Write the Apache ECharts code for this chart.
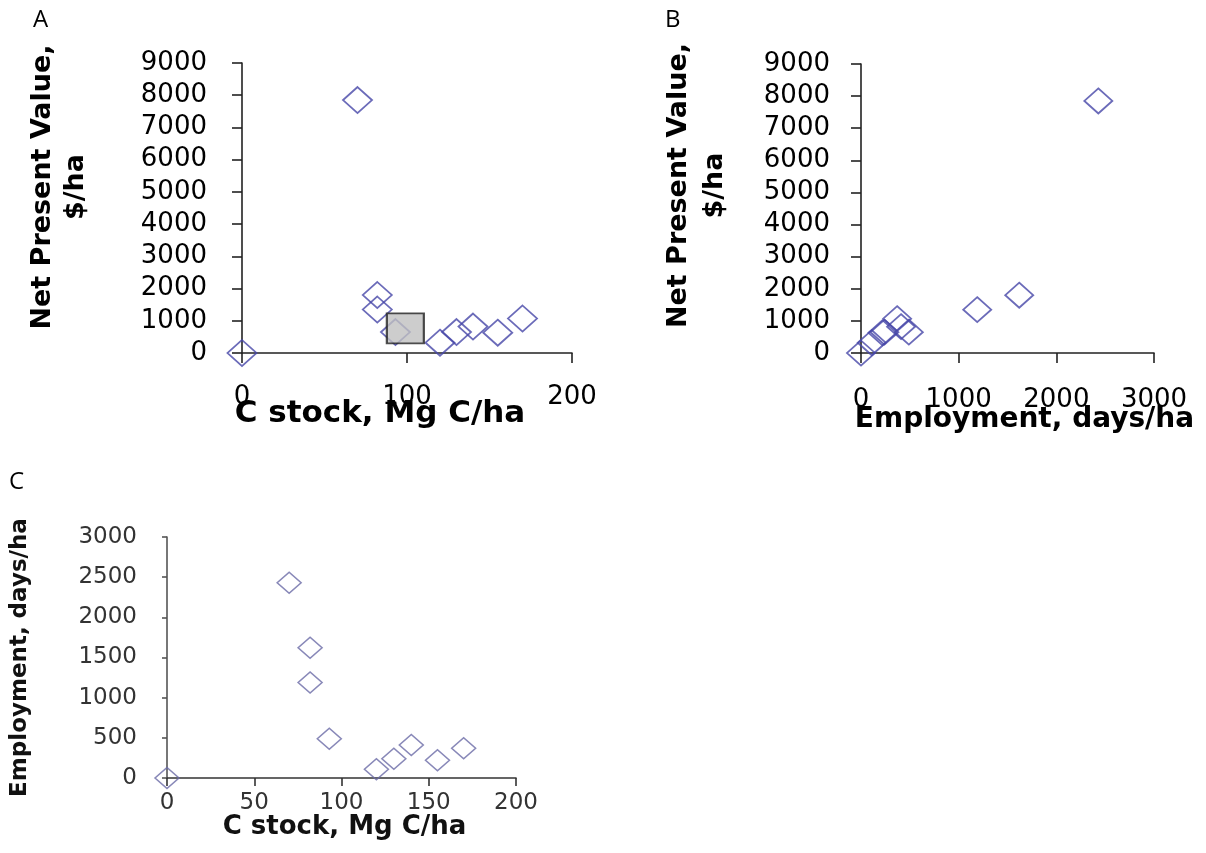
<!DOCTYPE html>
<html>
<head>
<meta charset="utf-8">
<script src="https://cdn.jsdelivr.net/npm/echarts@6/dist/echarts.min.js"></script>
<style>
  html, body { margin: 0; padding: 0; background: #fff; }
  #chart { width: 1206px; height: 853px; }
</style>
</head>
<body>
<div id="chart"></div>
<script>
// ---- data ----
const cStock     = [0, 70, 82, 82, 93, 120, 130, 140, 155, 170];          // Mg C/ha
const npv        = [0, 7850, 1800, 1350, 650, 320, 650, 820, 630, 1070];  // $/ha
const employment = [0, 2430, 1620, 1190, 490, 110, 240, 410, 220, 370];   // days/ha
const greyBox    = [[99, 765]];  // grey square overlaid in panel A (C stock, NPV)

const npvTicks   = { min: 0, max: 9000, interval: 1000 };
const cTicksA    = { min: 0, max: 200, interval: 100 };
const empTicksB  = { min: 0, max: 3000, interval: 1000 };
const empTicksC  = { min: 0, max: 3000, interval: 500 };
const cTicksC    = { min: 0, max: 200, interval: 50 };

const panelLetters = ['A', 'B', 'C'];
const titles = {
  npv: 'Net Present Value,\n$/ha',
  cStock: 'C stock, Mg C/ha',
  emp: 'Employment, days/ha'
};

const zip = (a, b) => a.map((v, i) => [v, b[i]]);
const plain = v => String(v);

const FONT = 'DejaVu Sans';
const blue = '#4646a8';

function axisStyle(color, tickLen) {
  return {
    nameMoveOverlap: false,
    axisLine: { show: true, onZero: false, lineStyle: { color: color, width: 1.6 } },
    axisTick: { show: true, inside: false, length: tickLen, lineStyle: { color: color, width: 1.6 } },
    splitLine: { show: false }
  };
}

const chart = echarts.init(document.getElementById('chart'), null, { renderer: 'canvas' });

const option = {
  animation: false,
  backgroundColor: '#ffffff',
  grid: [
    { left: 242, top: 63, width: 330, height: 290 },
    { left: 861, top: 64, width: 293, height: 289 },
    { left: 167, top: 537, width: 349, height: 241 }
  ],
  xAxis: [
    Object.assign({
      gridIndex: 0, type: 'value', ...cTicksA,
      name: titles.cStock, nameLocation: 'middle', nameGap: 45,
      nameTextStyle: { fontFamily: FONT, fontWeight: 'bold', fontSize: 31, color: '#000', padding: [0, 54, 0, 0] },
      axisLabel: { fontFamily: FONT, fontSize: 26, color: '#000', margin: 31, formatter: plain }
    }, axisStyle('#222', 10)),
    Object.assign({
      gridIndex: 1, type: 'value', ...empTicksB,
      name: titles.emp, nameLocation: 'middle', nameGap: 53,
      nameTextStyle: { fontFamily: FONT, fontWeight: 'bold', fontSize: 28, color: '#000', padding: [0, 0, 0, 34] },
      axisLabel: { fontFamily: FONT, fontSize: 26, color: '#000', margin: 34, formatter: plain }
    }, axisStyle('#222', 10)),
    Object.assign({
      gridIndex: 2, type: 'value', ...cTicksC,
      name: titles.cStock, nameLocation: 'middle', nameGap: 36,
      nameTextStyle: { fontFamily: FONT, fontWeight: 'bold', fontSize: 26, color: '#111', padding: [0, 0, 0, 6] },
      axisLabel: { fontFamily: FONT, fontSize: 23, color: '#333', margin: 14, formatter: plain }
    }, axisStyle('#333', 8))
  ],
  yAxis: [
    Object.assign({
      gridIndex: 0, type: 'value', ...npvTicks,
      name: titles.npv, nameLocation: 'middle', nameGap: 150,
      nameTextStyle: { fontFamily: FONT, fontWeight: 'bold', fontSize: 27, lineHeight: 33, color: '#000', padding: [0, 0, 0, 42] },
      axisLabel: { fontFamily: FONT, fontSize: 26, color: '#000', margin: 35, formatter: plain }
    }, axisStyle('#222', 10)),
    Object.assign({
      gridIndex: 1, type: 'value', ...npvTicks,
      name: titles.npv, nameLocation: 'middle', nameGap: 128,
      nameTextStyle: { fontFamily: FONT, fontWeight: 'bold', fontSize: 27, lineHeight: 36, color: '#000', padding: [0, 0, 0, 46] },
      axisLabel: { fontFamily: FONT, fontSize: 26, color: '#000', margin: 31, formatter: plain }
    }, axisStyle('#222', 10)),
    Object.assign({
      gridIndex: 2, type: 'value', ...empTicksC,
      name: titles.emp, nameLocation: 'middle', nameGap: 135,
      nameTextStyle: { fontFamily: FONT, fontWeight: 'bold', fontSize: 23, color: '#111' },
      axisLabel: { fontFamily: FONT, fontSize: 23, color: '#333', margin: 30, formatter: plain }
    }, axisStyle('#555', 5))
  ],
  series: [
    {
      type: 'scatter', xAxisIndex: 0, yAxisIndex: 0,
      data: zip(cStock, npv),
      symbol: 'diamond', symbolSize: [29, 26],
      itemStyle: { color: 'rgba(0,0,0,0)', borderColor: blue, borderWidth: 1.8 },
      emphasis: { disabled: true }, z: 3
    },
    {
      type: 'scatter', xAxisIndex: 0, yAxisIndex: 0,
      data: greyBox,
      symbol: 'rect', symbolSize: [37, 30],
      itemStyle: { color: '#c0c0c0', borderColor: '#222', borderWidth: 2 },
      emphasis: { disabled: true }, z: 4
    },
    {
      type: 'scatter', xAxisIndex: 1, yAxisIndex: 1,
      data: zip(employment, npv),
      symbol: 'diamond', symbolSize: [28, 25],
      itemStyle: { color: 'rgba(0,0,0,0)', borderColor: blue, borderWidth: 1.8 },
      emphasis: { disabled: true }, z: 3
    },
    {
      type: 'scatter', xAxisIndex: 2, yAxisIndex: 2,
      data: zip(cStock, employment),
      symbol: 'diamond', symbolSize: [24, 21],
      itemStyle: { color: 'rgba(0,0,0,0)', borderColor: '#6a6aa6', borderWidth: 1.5 },
      emphasis: { disabled: true }, z: 3
    }
  ],
  graphic: [
    { type: 'text', left: 33, top: 8, style: { text: panelLetters[0], fontFamily: 'Open Sans', fontSize: 24, fill: '#000' } },
    { type: 'text', left: 665, top: 8, style: { text: panelLetters[1], fontFamily: 'Open Sans', fontSize: 24, fill: '#000' } },
    { type: 'text', left: 9, top: 470, style: { text: panelLetters[2], fontFamily: 'Open Sans', fontSize: 24, fill: '#000' } }
  ]
};

chart.setOption(option);
</script>
</body>
</html>
